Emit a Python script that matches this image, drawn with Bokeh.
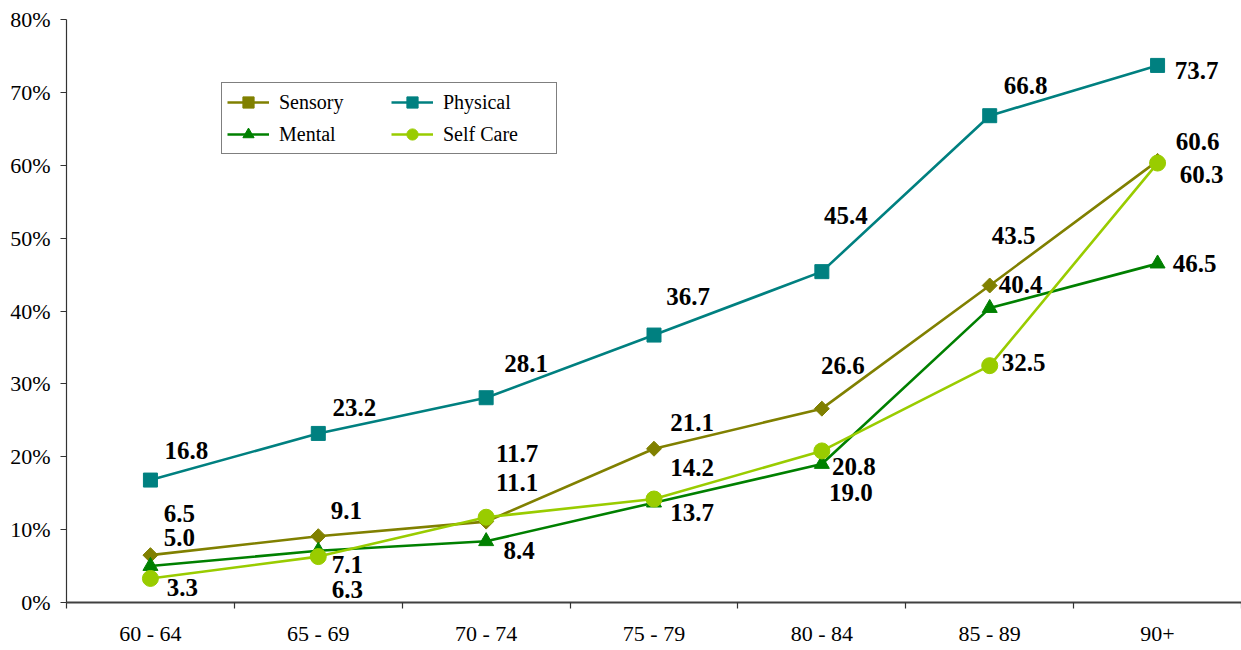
import math
from bokeh.plotting import figure
from bokeh.models import (FixedTicker, Legend, LegendItem, ColumnDataSource,
                          Range1d, PrintfTickFormatter)
from bokeh.core.properties import value
from bokeh.embed import file_html
from bokeh.resources import INLINE

categories = ["60 - 64", "65 - 69", "70 - 74", "75 - 79", "80 - 84", "85 - 89", "90+"]
sensory = [6.5, 9.1, 11.1, 21.1, 26.6, 43.5, 60.6]
physical = [16.8, 23.2, 28.1, 36.7, 45.4, 66.8, 73.7]
mental = [5.0, 7.1, 8.4, 13.7, 19.0, 40.4, 46.5]
self_care = [3.3, 6.3, 11.7, 14.2, 20.8, 32.5, 60.3]
y_ticks = [0, 10, 20, 30, 40, 50, 60, 70, 80]

# label offsets (screen px: dx, dy downward)
sensory_dx = [29, 28, 31, 38, 21, 24, 40]
sensory_dy = [-42, -26, -39, -26, -43, -50, -19]
physical_dx = [36, 36, 40, 34, 24, 36, 39]
physical_dy = [-30, -26, -34, -39, -56, -30, 5]
mental_dx = [29, 29, 33, 38, 29, 31, 37]
mental_dy = [-29, 14, 9, 10, 28, -24, 0]
self_care_dx = [32, 29, 31, 38, 32, 34, 44]
self_care_dy = [9, 33, -64, -32, 16, -3, 11]

FONT = "Liberation Serif"
xs = [i + 0.5 for i in range(len(categories))]

p = figure(frame_width=1175, frame_height=583,
           min_border_left=66, min_border_top=19, min_border_right=0, min_border_bottom=30,
           x_range=Range1d(0, len(categories)), y_range=Range1d(0, 80),
           output_backend="svg", toolbar_location=None)
p.outline_line_color = None
p.background_fill_color = "white"
p.border_fill_color = "white"

# axes
p.xaxis.ticker = FixedTicker(ticks=xs, minor_ticks=list(range(len(categories) + 1)))
p.xaxis.major_label_overrides = {x: c for x, c in zip(xs, categories)}
p.xaxis.major_tick_line_color = None
p.xaxis.minor_tick_line_color = "#333333"
p.xaxis.minor_tick_out = 6
p.xaxis.minor_tick_in = 0
p.xaxis.minor_tick_line_width = 1.2
p.xaxis.axis_line_color = "#404040"
p.xaxis.axis_line_width = 2
p.xaxis.major_label_text_font = FONT
p.xaxis.major_label_text_font_size = "22px"
p.xaxis.major_label_text_color = "black"
p.xaxis.major_label_standoff = 12

p.yaxis.ticker = FixedTicker(ticks=y_ticks)
p.yaxis.formatter = PrintfTickFormatter(format="%d%%")
p.yaxis.minor_tick_line_color = None
p.yaxis.major_tick_out = 6
p.yaxis.major_tick_in = 0
p.yaxis.major_tick_line_color = "#333333"
p.yaxis.axis_line_color = "#333333"
p.yaxis.axis_line_width = 1.2
p.yaxis.major_label_text_font = FONT
p.yaxis.major_label_text_font_size = "22px"
p.yaxis.major_label_text_color = "black"
p.yaxis.major_label_standoff = 10

p.xgrid.grid_line_color = None
p.ygrid.ticker = FixedTicker(ticks=[80])
p.ygrid.grid_line_color = "#999999"
p.ygrid.grid_line_width = 2

series = [
    ("Sensory", sensory, "#808000", dict(marker="square", size=10.6, angle=math.pi / 4), sensory_dx, sensory_dy),
    ("Physical", physical, "#008080", dict(marker="square", size=14), physical_dx, physical_dy),
    ("Mental", mental, "#008000", dict(marker="triangle", size=15), mental_dx, mental_dy),
    ("Self Care", self_care, "#99CC00", dict(marker="circle", size=16), self_care_dx, self_care_dy),
]

items = []
label_sources = []
for name, vals, color, mk, dx, dy in series:
    src = ColumnDataSource(dict(x=xs, y=vals, t=["%.1f" % v for v in vals], dx=dx, dy=dy))
    ln = p.line("x", "y", source=src, line_color=color, line_width=2.6)
    sc = p.scatter("x", "y", source=src, fill_color=color, line_color=color, **mk)
    items.append(LegendItem(label=name, renderers=[ln, sc]))
    label_sources.append(src)

for src in label_sources:
    p.text("x", "y", text="t", source=src, x_offset="dx", y_offset="dy",
           text_font=value(FONT), text_font_style="bold", text_font_size="25px",
           text_color="black", text_align="center", text_baseline="middle")

# column-major order: column 1 = Sensory, Mental; column 2 = Physical, Self Care
legend = Legend(items=[items[0], items[2], items[1], items[3]], ncols=2,
                location=(155, 448))
legend.border_line_color = "black"
legend.border_line_width = 1
legend.background_fill_color = "white"
legend.background_fill_alpha = 1
legend.padding = 5
legend.spacing = 4
legend.margin = 0
legend.glyph_width = 42
legend.glyph_height = 28
legend.label_height = 28
legend.label_width = 108
legend.label_standoff = 10
legend.label_text_font = FONT
legend.label_text_font_size = "20px"
legend.label_text_color = "black"
p.add_layout(legend)

open("out.html", "w").write(file_html(p, INLINE))
